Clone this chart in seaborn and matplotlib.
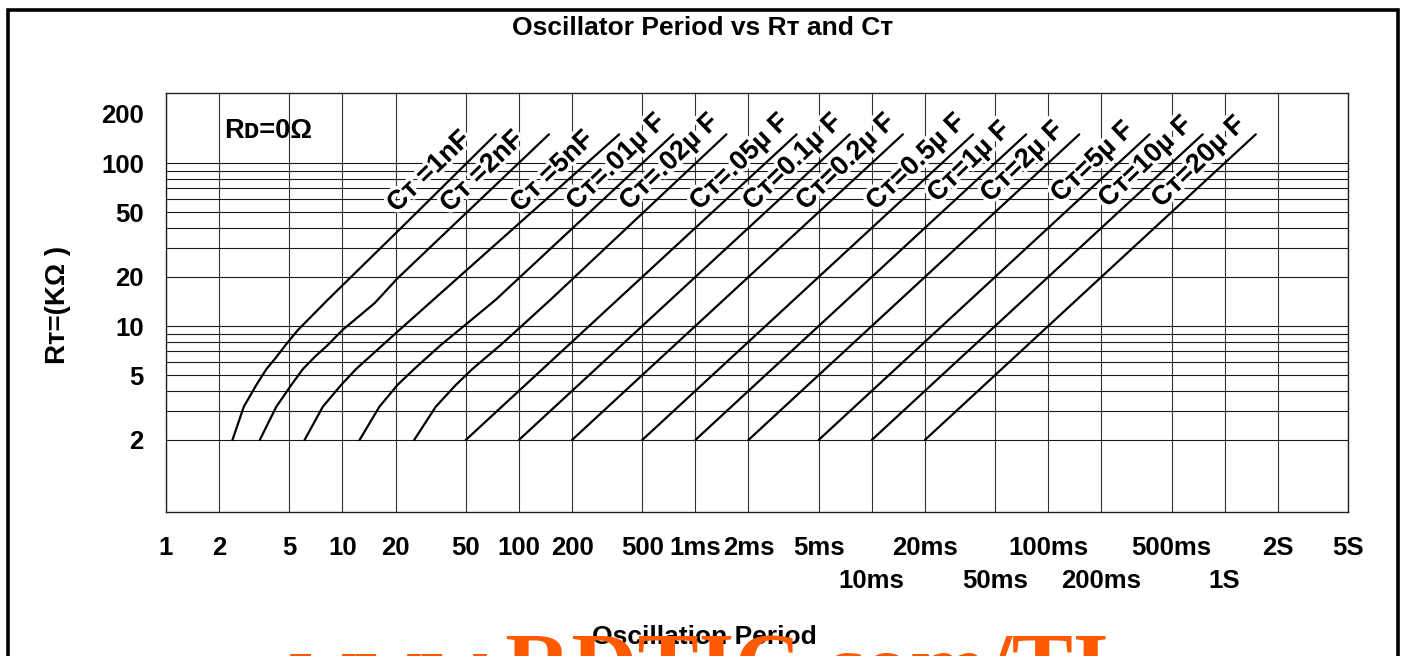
import matplotlib
matplotlib.use("Agg")
import matplotlib.pyplot as plt
import matplotlib.patheffects as pe
from matplotlib.patches import Rectangle
from matplotlib.ticker import FixedLocator, NullFormatter
import seaborn as sns

# ---------------- data ----------------
# period in microseconds, RT in kOhm
ct_labels = ["Cᴛ =1nF", "Cᴛ =2nF", "Cᴛ =5nF", "Cᴛ=.01µ F", "Cᴛ=.02µ F",
             "Cᴛ=.05µ F", "Cᴛ=0.1µ F", "Cᴛ=0.2µ F", "Cᴛ=0.5µ F", "Cᴛ=1µ F",
             "Cᴛ=2µ F", "Cᴛ=5µ F", "Cᴛ=10µ F", "Cᴛ=20µ F"]

rt_1nF = [2, 3.2, 4.35, 5.45, 6.45, 7.65, 9.45, 14.5, 38, 150]
period_1nF = [2.38, 2.76, 3.25, 3.71, 4.22, 4.76, 5.59, 8.26, 20.5, 74]

rt_2nF = [2, 3.2, 4.35, 5.45, 6.45, 7.65, 9.45, 13.8, 19.6, 46.9, 150]
period_2nF = [3.40, 4.22, 5.13, 5.97, 6.95, 8.26, 10.0, 15.2, 20.5, 47.8, 148]

rt_5nF = [2, 3.2, 4.35, 5.45, 6.45, 7.65, 9.45, 150]
period_5nF = [6.10, 7.74, 9.83, 11.95, 14.2, 16.9, 21.0, 370]

rt_10nF = [2, 3.2, 4.35, 5.45, 6.45, 7.65, 9.45, 14.5, 150]
period_10nF = [12.5, 16.2, 20.5, 25.5, 30.3, 36.1, 45.8, 73.9, 750]

rt_20nF = [2, 3.2, 4.35, 5.45, 6.45, 7.65, 9.45, 14.5, 150]
period_20nF = [25.5, 33.8, 43.9, 54.5, 65.4, 78.8, 97.8, 151, 1500]

rt_straight = [2, 150]
period_straight_low = [50, 100, 200, 500, 1000, 2000, 5000, 10000, 20000]
period_straight_high = [3750, 7500, 15000, 37500, 75000, 150000, 375000,
                        750000, 1500000]

# first row of period labels
x_tick_values = [1, 2, 5, 10, 20, 50, 100, 200, 500, 1e3, 2e3, 5e3, 2e4,
                 1e5, 5e5, 2e6, 5e6]
x_tick_labels = ["1", "2", "5", "10", "20", "50", "100", "200", "500", "1ms",
                 "2ms", "5ms", "20ms", "100ms", "500ms", "2S", "5S"]
# second row of period labels
x_tick_values_row2 = [1e4, 5e4, 2e5, 1e6]
x_tick_labels_row2 = ["10ms", "50ms", "200ms", "1S"]

y_tick_values = [2, 5, 10, 20, 50, 100, 200]
y_tick_labels = ["2", "5", "10", "20", "50", "100", "200"]
y_grid_values = [2, 3, 4, 5, 6, 7, 8, 9, 10, 20, 30, 40, 50, 60, 70, 80, 90, 100]

# ---------------- style ----------------
sns.set_theme(style="white")
plt.rcParams['font.family'] = ['Liberation Sans', 'DejaVu Sans']
plt.rcParams['font.weight'] = 'bold'
plt.rcParams['text.color'] = 'black'
plt.rcParams['axes.labelcolor'] = 'black'
plt.rcParams['xtick.color'] = 'black'
plt.rcParams['ytick.color'] = 'black'

W, H = 1406, 656
fig = plt.figure(figsize=(W / 100, H / 100), dpi=100)
ax = fig.add_axes([166 / W, 144 / H, 1182 / W, 419 / H])

curves = [(period_1nF, rt_1nF), (period_2nF, rt_2nF), (period_5nF, rt_5nF),
          (period_10nF, rt_10nF), (period_20nF, rt_20nF)]
for lo, hi in zip(period_straight_low, period_straight_high):
    curves.append(([lo, hi], rt_straight))

halo = [pe.withStroke(linewidth=5, foreground='white')]
for i, (px, ry) in enumerate(curves):
    sns.lineplot(x=px, y=ry, ax=ax, color='black', lw=1.6, sort=False,
                 estimator=None, zorder=5)
    if i < 3:
        off = (-48, -27)
    else:
        off = (-41, -20)
    ax.annotate(ct_labels[i], xy=(px[-1], ry[-1]), xytext=off,
                textcoords='offset points', ha='center', va='center',
                rotation=44, rotation_mode='anchor', fontsize=19.5,
                fontweight='bold', color='black', zorder=4,
                path_effects=halo)

ax.set_xscale('log')
ax.set_yscale('log')
ax.set_xlim(1, 5e6)
ax.set_ylim(0.723, 269)

ax.set_xticks(x_tick_values)
ax.set_xticklabels(x_tick_labels)
ax.set_xticks(x_tick_values_row2, minor=True)
ax.set_xticklabels(x_tick_labels_row2, minor=True)
ax.set_yticks(y_tick_values)
ax.set_yticklabels(y_tick_labels)
ax.yaxis.set_minor_locator(FixedLocator(y_grid_values))
ax.yaxis.set_minor_formatter(NullFormatter())
ax.yaxis.remove_overlapping_locs = False

ax.grid(False)
ax.grid(which='both', axis='x', color='#333333', lw=0.8, zorder=1)
ax.grid(which='minor', axis='y', color='#1a1a1a', lw=0.8, zorder=1)
ax.set_axisbelow(True)
ax.tick_params(axis='both', which='both', length=0, labelsize=18.5,
               colors='black')
ax.tick_params(axis='x', which='major', pad=17)
ax.tick_params(axis='x', which='minor', pad=41)
ax.tick_params(axis='y', pad=16)
for lab in (ax.get_xticklabels() + ax.get_xticklabels(minor=True)
            + ax.get_yticklabels()):
    lab.set_fontweight('bold')
for s in ax.spines.values():
    s.set_color('#222222')
    s.set_linewidth(1.0)
ax.set_xlabel('')
ax.set_ylabel('')

fig.text(224 / W, 1 - 131 / H, "Rᴅ=0Ω", fontsize=19.5, fontweight='bold',
         ha='left', va='center')

fig.text(703 / W, 1 - 28 / H, "Oscillator Period vs Rᴛ and Cᴛ",
         fontsize=19, fontweight='bold', ha='center', va='center')
fig.text(58 / W, 1 - 305 / H, "Rᴛ=(KΩ )", rotation=90, fontsize=20,
         fontweight='bold', ha='center', va='center')
fig.text(704 / W, 1 - 637 / H, "Oscillation Period", fontsize=19,
         fontweight='bold', ha='center', va='center', zorder=3)

# watermark (cut by the bottom edge as in the reference)
fig.text(700 / W, (H - 696) / H, "www.RDTIC.com/TI", fontsize=66,
         fontweight='bold', family=['Liberation Serif', 'DejaVu Serif'],
         color='#ff5a00', ha='center', va='baseline', zorder=4)

# outer frame
fig.add_artist(Rectangle((8 / W, -0.2), (1398 - 8) / W, 1.2 - 10 / H,
                         transform=fig.transFigure, fill=False,
                         edgecolor='black', lw=2.6, clip_on=False))

fig.savefig("out.png", dpi=100, facecolor='white')
